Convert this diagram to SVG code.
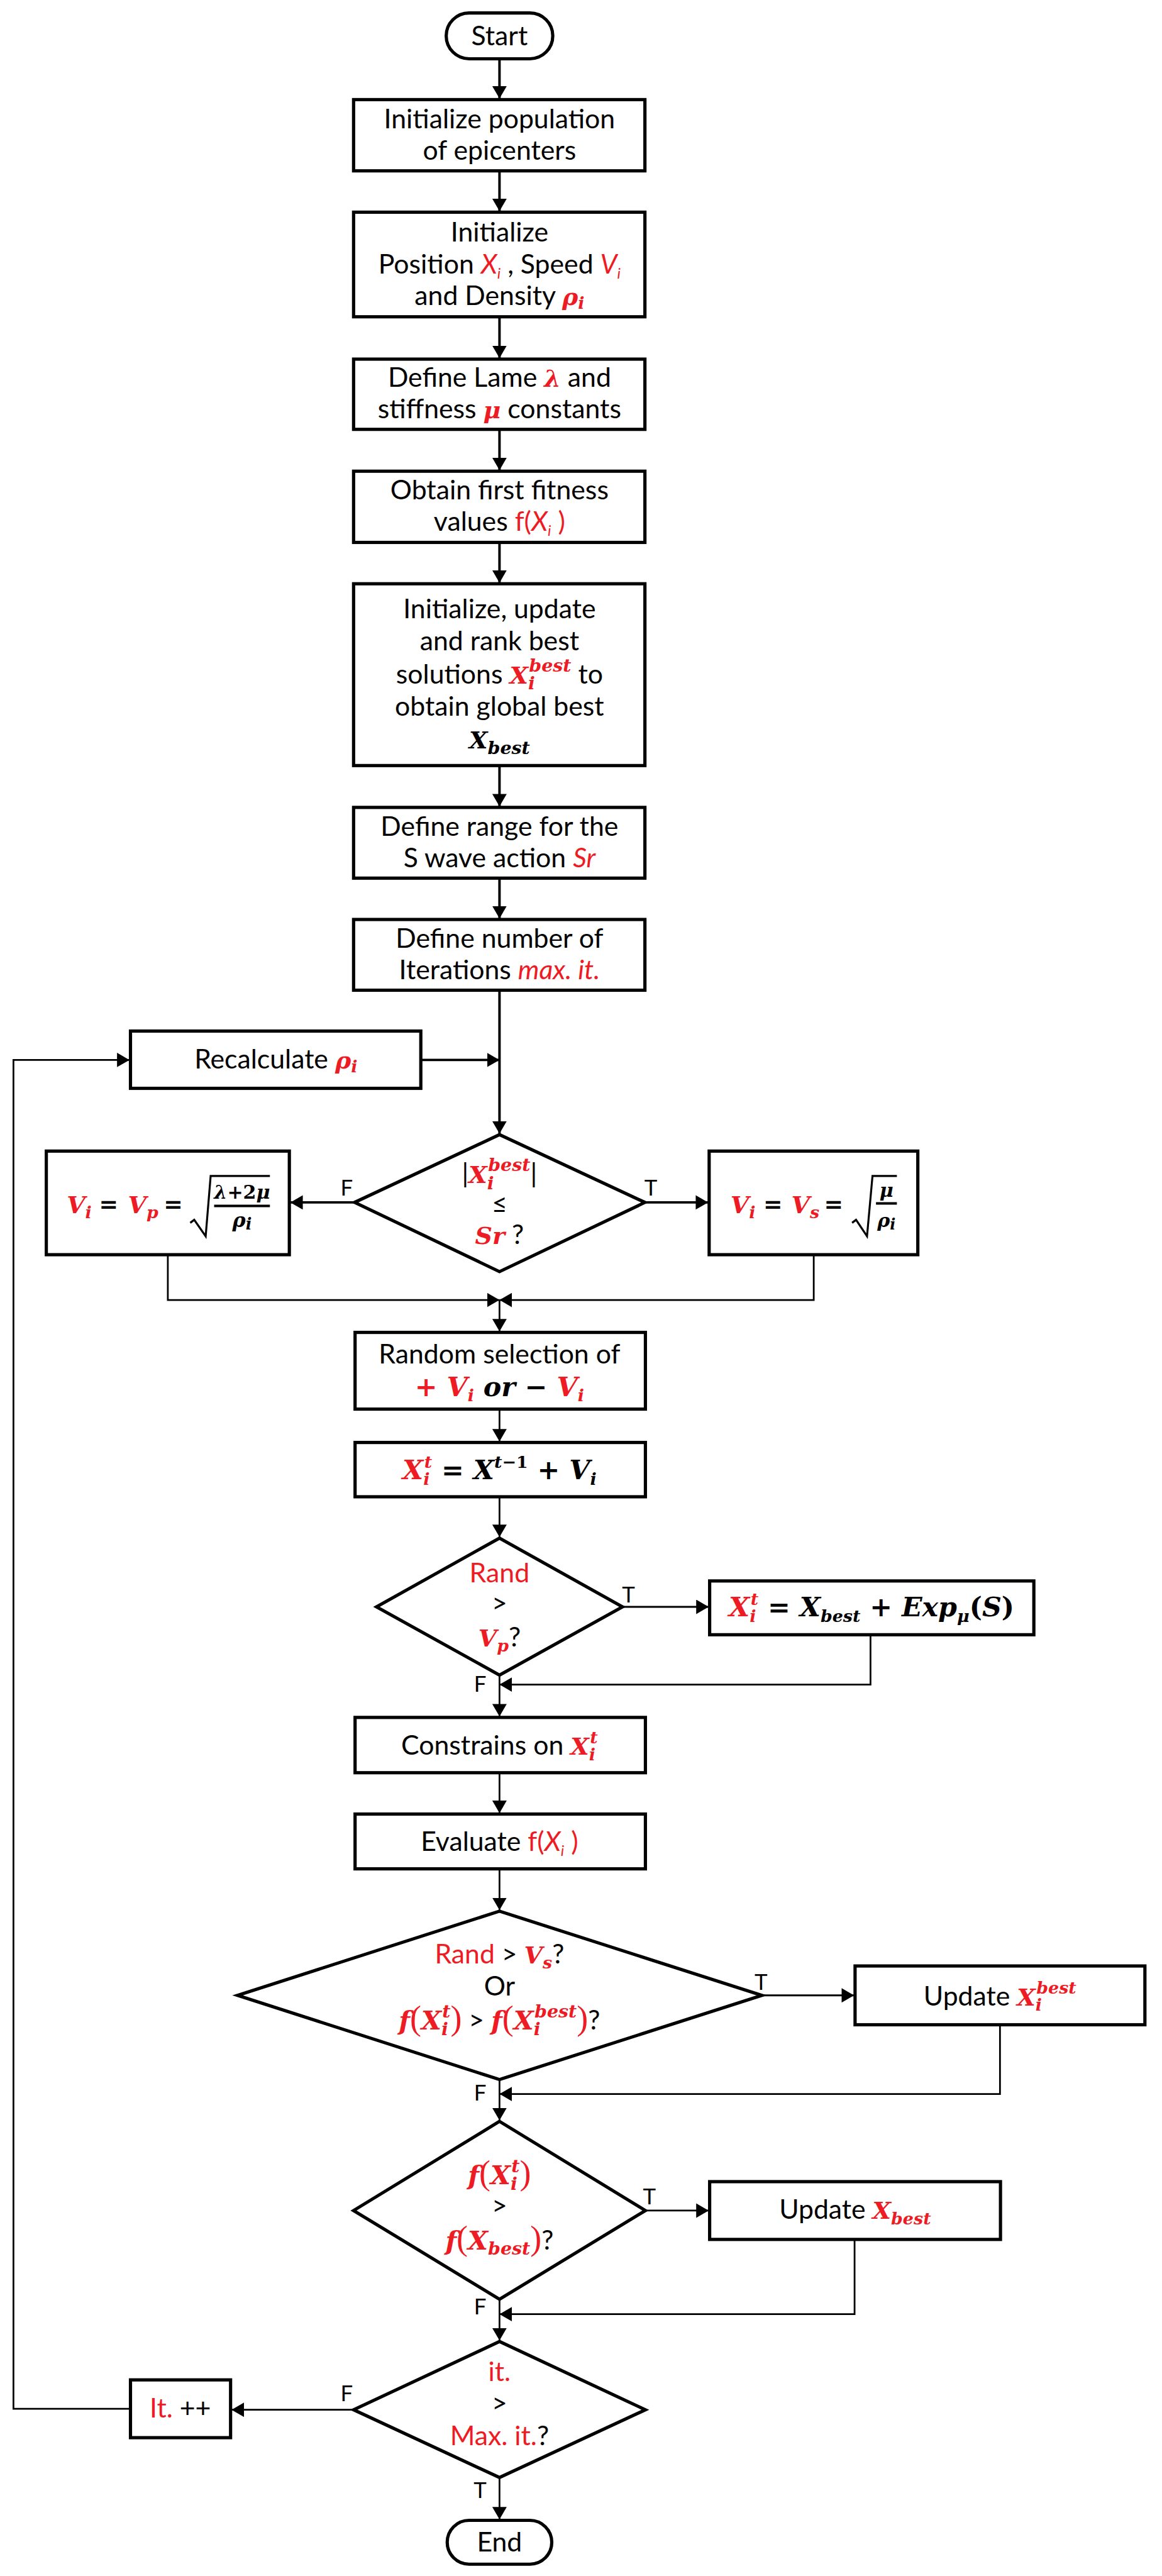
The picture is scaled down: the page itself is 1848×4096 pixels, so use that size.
<svg xmlns="http://www.w3.org/2000/svg" width="1848" height="4096" viewBox="0 0 1848 4096">
<style>
.box{fill:#fff;stroke:#000;stroke-width:6.5}
.dia{fill:#fff;stroke:#000;stroke-width:6.5}
.c{fill:none;stroke:#000;stroke-width:3.5}
.c5{fill:none;stroke:#000;stroke-width:5}
.t{font-family:Lato,"Liberation Sans",sans-serif;font-size:54px;fill:#000;text-anchor:middle}
.lbl{font-family:Lato,"Liberation Sans",sans-serif;font-size:44px;fill:#000;text-anchor:middle}
.m{font-family:"DejaVu Serif","Liberation Serif",serif;font-style:italic;font-weight:bold}
.p{font-family:"Liberation Serif","DejaVu Serif",serif;font-style:normal;font-weight:normal}
.r{fill:#ed1c24}
.it{font-style:italic}
.eq{font-family:"DejaVu Serif","Liberation Serif",serif;font-size:46px;font-weight:bold;text-anchor:middle;fill:#000}
</style>
<defs>
<marker id="ah" markerUnits="userSpaceOnUse" viewBox="0 0 26 30" markerWidth="26" markerHeight="30" refX="25" refY="14.5" orient="auto"><path d="M0,0 L25,14.5 L0,29 z" fill="#000"/></marker>
</defs>
<rect width="1848" height="4096" fill="#fff"/>
<g transform="scale(0.792)">
<g id="connectors">
<path class="c5" d="M1003 118 V198" marker-end="url(#ah)"/>
<path class="c5" d="M1003 343 V424" marker-end="url(#ah)"/>
<path class="c5" d="M1003 636 V719" marker-end="url(#ah)"/>
<path class="c5" d="M1003 862 V944" marker-end="url(#ah)"/>
<path class="c5" d="M1003 1089 V1170" marker-end="url(#ah)"/>
<path class="c5" d="M1003 1537 V1619" marker-end="url(#ah)"/>
<path class="c5" d="M1003 1763 V1844" marker-end="url(#ah)"/>
<path class="c5" d="M1003 1988 V2276" marker-end="url(#ah)"/>
<path class="c5" d="M845 2128 H1003" marker-end="url(#ah)"/>
<path class="c" d="M262 4836 H27 V2128 H260" marker-end="url(#ah)"/>
<path class="c5" d="M712 2414 H583" marker-end="url(#ah)"/>
<path class="c5" d="M1295 2414 H1422" marker-end="url(#ah)"/>
<path class="c" d="M337 2519 V2610 H1003" marker-end="url(#ah)"/>
<path class="c" d="M1634 2519 V2610 H1003" marker-end="url(#ah)"/>
<path class="c" d="M1003 2610 V2673" marker-end="url(#ah)"/>
<path class="c" d="M1003 2829 V2894" marker-end="url(#ah)"/>
<path class="c" d="M1003 3005 V3086" marker-end="url(#ah)"/>
<path class="c" d="M1250 3226 H1423" marker-end="url(#ah)"/>
<path class="c" d="M1748 3282 V3382 H1003" marker-end="url(#ah)"/>
<path class="c" d="M1003 3363 V3446" marker-end="url(#ah)"/>
<path class="c" d="M1003 3559 V3640" marker-end="url(#ah)"/>
<path class="c" d="M1003 3752 V3835" marker-end="url(#ah)"/>
<path class="c" d="M1530 4006 H1715" marker-end="url(#ah)"/>
<path class="c" d="M2008 4065 V4204 H1003" marker-end="url(#ah)"/>
<path class="c" d="M1003 4175 V4257" marker-end="url(#ah)"/>
<path class="c" d="M1296 4438 H1423" marker-end="url(#ah)"/>
<path class="c" d="M1716 4496 V4646 H1003" marker-end="url(#ah)"/>
<path class="c" d="M1003 4616 V4699" marker-end="url(#ah)"/>
<path class="c" d="M710 4838 H465" marker-end="url(#ah)"/>
<path class="c" d="M1003 4974 V5058" marker-end="url(#ah)"/>
</g>
<g id="labels">
<text class="lbl" x="696" y="2400">F</text>
<text class="lbl" x="1307" y="2400">T</text>
<text class="lbl" x="1262" y="3217">T</text>
<text class="lbl" x="964" y="3396">F</text>
<text class="lbl" x="1528" y="3995">T</text>
<text class="lbl" x="964" y="4217">F</text>
<text class="lbl" x="1304" y="4426">T</text>
<text class="lbl" x="964" y="4646">F</text>
<text class="lbl" x="696" y="4821">F</text>
<text class="lbl" x="964" y="5015">T</text>
</g>
<g id="start">
<rect class="box" x="896" y="26" width="214" height="92" rx="46"/>
<text class="t" x="1003" y="91">Start</text>
</g>
<g id="init-pop">
<rect class="box" x="710" y="200" width="585" height="143"/>
<text class="t" x="1003" y="258">Initialize population</text>
<text class="t" x="1003" y="321">of epicenters</text>
</g>
<g id="init-pos">
<rect class="box" x="710" y="426" width="585" height="210"/>
<text class="t" x="1003" y="485">Initialize</text>
<text class="t" x="1003" y="549">Position <tspan class="r it">X</tspan><tspan class="r it" font-size="30" dy="10">i</tspan><tspan dy="-10"> , Speed </tspan><tspan class="r it">V</tspan><tspan class="r it" font-size="30" dy="10">i</tspan></text>
<text class="t" x="1003" y="612">and Density <tspan class="r m" font-size="48">ρ</tspan><tspan class="r m" font-size="34" dy="8">i</tspan></text>
</g>
<g id="lame">
<rect class="box" x="710" y="721" width="585" height="141"/>
<text class="t" x="1003" y="777">Define Lame <tspan class="r m" font-size="48">λ</tspan> and</text>
<text class="t" x="1003" y="840">stiffness <tspan class="r m" font-size="48">μ</tspan> constants</text>
</g>
<g id="fitness">
<rect class="box" x="710" y="946" width="585" height="143"/>
<text class="t" x="1003" y="1003">Obtain first fitness</text>
<text class="t" x="1003" y="1066">values <tspan class="r">f(</tspan><tspan class="r it">X</tspan><tspan class="r it" font-size="30" dy="10">i</tspan><tspan class="r" dy="-10"> )</tspan></text>
</g>
<g id="rank">
<rect class="box" x="710" y="1172" width="585" height="365"/>
<text class="t" x="1003" y="1241">Initialize, update</text>
<text class="t" x="1003" y="1306">and rank best</text>
<text class="t" x="1003" y="1372">solutions <tspan class="r m" font-size="48">X</tspan><tspan class="r m" font-size="36" dy="12">i</tspan><tspan class="r m" font-size="36" dx="-12" dy="-36">best</tspan><tspan dy="24"> to</tspan></text>
<text class="t" x="1003" y="1437">obtain global best</text>
<text class="t" x="1003" y="1502"><tspan class="m" font-size="48">X</tspan><tspan class="m" font-size="36" dy="12">best</tspan></text>
</g>
<g id="range">
<rect class="box" x="710" y="1621" width="585" height="142"/>
<text class="t" x="1003" y="1678">Define range for the</text>
<text class="t" x="1003" y="1741">S wave action <tspan class="r it">Sr</tspan></text>
</g>
<g id="iters">
<rect class="box" x="710" y="1846" width="585" height="142"/>
<text class="t" x="1003" y="1903">Define number of</text>
<text class="t" x="1003" y="1966">Iterations <tspan class="r it">max. it.</tspan></text>
</g>
<g id="recalc">
<rect class="box" x="262" y="2070" width="583" height="115"/>
<text class="t" x="554" y="2145">Recalculate <tspan class="r m" font-size="48">ρ</tspan><tspan class="r m" font-size="34" dy="8">i</tspan></text>
</g>
<g id="dec-sr">
<polygon class="dia" points="1003,2278 1295,2414 1003,2553 712,2414"/>
<text class="t" x="1003" y="2375">|<tspan class="r m" font-size="48">X</tspan><tspan class="r m" font-size="36" dy="12">i</tspan><tspan class="r m" font-size="36" dx="-12" dy="-36">best</tspan><tspan dy="24">|</tspan></text>
<text class="t" x="1003" y="2436">≤</text>
<text class="t" x="1003" y="2497"><tspan class="r m" font-size="48">Sr</tspan> ?</text>
</g>
<g id="vp">
<rect class="box" x="93" y="2311" width="488" height="208"/>
<text class="m r" x="134" y="2436" font-size="48">V<tspan font-size="34" dy="10">i</tspan></text>
<text class="eq" x="218" y="2434">=</text>
<text class="m r" x="257" y="2436" font-size="48">V<tspan font-size="34" dy="10">p</tspan></text>
<text class="eq" x="348" y="2434">=</text>
<path d="M382 2455 L390 2449 L413 2482 L423 2361 L542 2361" fill="none" stroke="#000" stroke-width="4"/>
<line x1="430" y1="2421" x2="542" y2="2421" stroke="#000" stroke-width="5"/>
<text class="m" x="486" y="2406" font-size="38" text-anchor="middle">λ<tspan font-style="normal">+2</tspan>μ</text>
<text class="m" x="486" y="2464" font-size="40" text-anchor="middle">ρ<tspan font-size="32" dy="4">i</tspan></text>
</g>
<g id="vs">
<rect class="box" x="1424" y="2311" width="419" height="208"/>
<text class="m r" x="1467" y="2436" font-size="48">V<tspan font-size="34" dy="10">i</tspan></text>
<text class="eq" x="1552" y="2434">=</text>
<text class="m r" x="1589" y="2436" font-size="48">V<tspan font-size="34" dy="10">s</tspan></text>
<text class="eq" x="1674" y="2434">=</text>
<path d="M1711 2455 L1719 2449 L1741 2482 L1752 2361 L1801 2361" fill="none" stroke="#000" stroke-width="4"/>
<line x1="1759" y1="2416" x2="1801" y2="2416" stroke="#000" stroke-width="5"/>
<text class="m" x="1780" y="2403" font-size="38" text-anchor="middle">μ</text>
<text class="m" x="1780" y="2464" font-size="38" text-anchor="middle">ρ<tspan font-size="30" dy="4">i</tspan></text>
</g>
<g id="random">
<rect class="box" x="713" y="2675" width="583" height="154"/>
<text class="t" x="1003" y="2738">Random selection of</text>
<text class="t m" x="1003" y="2803" font-size="48"><tspan class="r" font-style="normal">+</tspan><tspan class="r"> V</tspan><tspan class="r" font-size="34" dy="10">i</tspan><tspan dy="-10"> or  </tspan><tspan font-style="normal">−</tspan><tspan class="r"> V</tspan><tspan class="r" font-size="34" dy="10">i</tspan></text>
</g>
<g id="update-x">
<rect class="box" x="713" y="2896" width="583" height="109"/>
<text class="t m" x="1003" y="2970" font-size="48"><tspan class="r">X</tspan><tspan class="r" font-size="34" dy="11">i</tspan><tspan class="r" font-size="34" dx="-11" dy="-34">t</tspan><tspan font-style="normal" dy="23"> = </tspan>X<tspan font-size="34" dy="-23">t</tspan><tspan font-size="34" font-style="normal">−1</tspan><tspan font-style="normal" dy="23"> + </tspan>V<tspan font-size="34" dy="11">i</tspan></text>
</g>
<g id="dec-vp">
<polygon class="dia" points="1003,3088 1250,3226 1003,3363 756,3226"/>
<text class="t r" x="1003" y="3177">Rand</text>
<text class="t" x="1003" y="3238">&gt;</text>
<text class="t" x="1003" y="3306"><tspan class="r m" font-size="48">V</tspan><tspan class="r m" font-size="34" dy="10">p</tspan><tspan dy="-10">?</tspan></text>
</g>
<g id="exp">
<rect class="box" x="1425" y="3174" width="651" height="108"/>
<text class="t m" x="1750" y="3245" font-size="48"><tspan class="r">X</tspan><tspan class="r" font-size="34" dy="11">i</tspan><tspan class="r" font-size="34" dx="-11" dy="-34">t</tspan><tspan font-style="normal" dy="23"> = </tspan>X<tspan font-size="34" dy="11">best</tspan><tspan font-style="normal" dy="-11"> + </tspan>Exp<tspan font-size="34" dy="11">μ</tspan><tspan font-style="normal" dy="-11">(</tspan>S<tspan font-style="normal">)</tspan></text>
</g>
<g id="constrain">
<rect class="box" x="713" y="3448" width="583" height="111"/>
<text class="t" x="1003" y="3523">Constrains on <tspan class="r m" font-size="48">X</tspan><tspan class="r m" font-size="34" dy="11">i</tspan><tspan class="r m" font-size="34" dx="-11" dy="-34">t</tspan></text>
</g>
<g id="evaluate">
<rect class="box" x="713" y="3642" width="583" height="110"/>
<text class="t" x="1003" y="3716">Evaluate <tspan class="r">f(</tspan><tspan class="r it">X</tspan><tspan class="r it" font-size="30" dy="10">i</tspan><tspan class="r" dy="-10"> )</tspan></text>
</g>
<g id="dec-vs">
<polygon class="dia" points="1003,3837 1530,4006 1003,4175 477,4006"/>
<text class="t" x="1003" y="3942"><tspan class="r">Rand</tspan> &gt; <tspan class="r m" font-size="48">V</tspan><tspan class="r m" font-size="34" dy="10">s</tspan><tspan dy="-10">?</tspan></text>
<text class="t" x="1003" y="4006">Or</text>
<text class="t" x="1003" y="4075"><tspan class="r m" font-size="52">f</tspan><tspan class="r p" font-size="68">(</tspan><tspan class="r m" font-size="52">X</tspan><tspan class="r m" font-size="36" dy="11">i</tspan><tspan class="r m" font-size="36" dx="-12" dy="-35">t</tspan><tspan class="r p" font-size="68" dy="24">)</tspan> &gt; <tspan class="r m" font-size="52">f</tspan><tspan class="r p" font-size="68">(</tspan><tspan class="r m" font-size="52">X</tspan><tspan class="r m" font-size="36" dy="11">i</tspan><tspan class="r m" font-size="36" dx="-12" dy="-35">best</tspan><tspan class="r p" font-size="68" dy="24">)</tspan>?</text>
</g>
<g id="update-xibest">
<rect class="box" x="1717" y="3947" width="582" height="118"/>
<text class="t" x="2008" y="4026">Update <tspan class="r m" font-size="48">X</tspan><tspan class="r m" font-size="34" dy="11">i</tspan><tspan class="r m" font-size="34" dx="-11" dy="-34">best</tspan></text>
</g>
<g id="dec-best">
<polygon class="dia" points="1003,4259 1296,4438 1003,4616 710,4438"/>
<text class="t" x="1003" y="4385"><tspan class="r m" font-size="52">f</tspan><tspan class="r p" font-size="68">(</tspan><tspan class="r m" font-size="52">X</tspan><tspan class="r m" font-size="36" dy="11">i</tspan><tspan class="r m" font-size="36" dx="-12" dy="-35">t</tspan><tspan class="r p" font-size="68" dy="24">)</tspan></text>
<text class="t" x="1003" y="4447">&gt;</text>
<text class="t" x="1003" y="4516"><tspan class="r m" font-size="52">f</tspan><tspan class="r p" font-size="68">(</tspan><tspan class="r m" font-size="52">X</tspan><tspan class="r m" font-size="36" dy="11">best</tspan><tspan class="r p" font-size="68" dy="-11">)</tspan>?</text>
</g>
<g id="update-xbest">
<rect class="box" x="1425" y="4380" width="584" height="116"/>
<text class="t" x="1717" y="4455">Update <tspan class="r m" font-size="48">X</tspan><tspan class="r m" font-size="34" dy="11">best</tspan></text>
</g>
<g id="dec-iter">
<polygon class="dia" points="1003,4701 1296,4838 1003,4974 710,4838"/>
<text class="t r" x="1003" y="4780">it.</text>
<text class="t" x="1003" y="4843">&gt;</text>
<text class="t" x="1003" y="4909"><tspan class="r">Max. it.</tspan>?</text>
</g>
<g id="inc">
<rect class="box" x="262" y="4778" width="201" height="116"/>
<text class="t" x="362" y="4853"><tspan class="r">It.</tspan> ++</text>
</g>
<g id="end">
<rect class="box" x="898" y="5060" width="210" height="88" rx="44"/>
<text class="t" x="1003" y="5123">End</text>
</g>
</g>
</svg>
